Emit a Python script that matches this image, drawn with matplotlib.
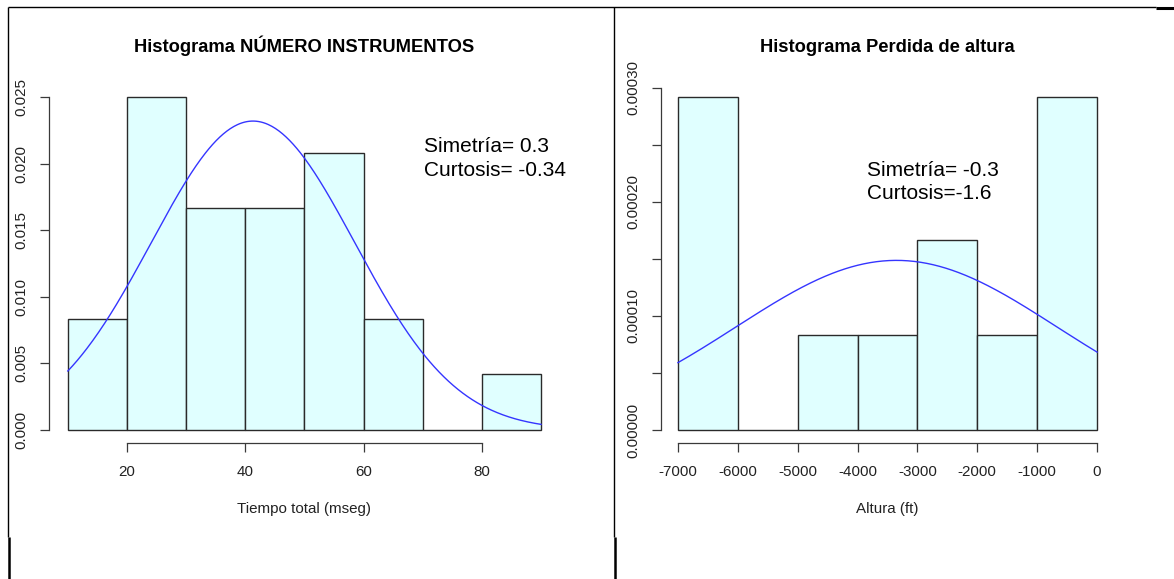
import numpy as np
import matplotlib
matplotlib.use("Agg")
import matplotlib.pyplot as plt
from matplotlib.lines import Line2D

plt.rcParams['font.family'] = ['Liberation Sans', 'DejaVu Sans']

# ---------------- data ----------------
# Left histogram: Tiempo total (mseg)
left_edges = [10, 20, 30, 40, 50, 60, 70, 80, 90]
left_density = [0.008333, 0.025, 0.016667, 0.016667, 0.020833, 0.008333, 0.0, 0.004167]
left_mean = 41.3
left_sd = 17.2
left_xticks = [20, 40, 60, 80]
left_yticks = [0.000, 0.005, 0.010, 0.015, 0.020, 0.025]
left_ytick_labels = ["0.000", "0.005", "0.010", "0.015", "0.020", "0.025"]
left_title = "Histograma NÚMERO INSTRUMENTOS"
left_xlabel = "Tiempo total (mseg)"
left_notes = ["Simetría= 0.3", "Curtosis= -0.34"]

# Right histogram: Altura (ft)
right_edges = [-7000, -6000, -5000, -4000, -3000, -2000, -1000, 0]
right_density = [0.0002917, 0.0, 0.0000833, 0.0000833, 0.0001667, 0.0000833, 0.0002917]
right_mean = -3350.0
right_sd = 2685.0
right_xticks = [-7000, -6000, -5000, -4000, -3000, -2000, -1000, 0]
right_yticks = [0.0, 0.00005, 0.00010, 0.00015, 0.00020, 0.00025, 0.00030]
right_ytick_labels = ["0.00000", "", "0.00010", "", "0.00020", "", "0.00030"]
right_title = "Histograma Perdida de altura"
right_xlabel = "Altura (ft)"
right_notes = ["Simetría= -0.3", "Curtosis=-1.6"]

# ---------------- layout ----------------
W, H = 1174, 579
fig = plt.figure(figsize=(W / 100, H / 100), dpi=100)

def px_axes(x0, x1, ytop, ybot):
    return fig.add_axes([x0 / W, 1 - ybot / H, (x1 - x0) / W, (ybot - ytop) / H])

BAR_FACE = '#E0FFFF'
BAR_EDGE = '#2a2a2a'
AX_COL = '#3a3a3a'
TICK_FS = 10.9

def draw_hist(ax, edges, dens, mean, sd, xlim, ylim, xticks, yticks, ylabels,
              title, xlabel, notes, note_xy, ybound):
    edges = np.asarray(edges, float)
    widths = np.diff(edges)
    ax.bar(edges[:-1], dens, width=widths, align='edge', color=BAR_FACE,
           edgecolor=BAR_EDGE, linewidth=1.0, zorder=2)
    xs = np.linspace(edges[0], edges[-1], 400)
    ys = np.exp(-0.5 * ((xs - mean) / sd) ** 2) / (sd * np.sqrt(2 * np.pi))
    ax.plot(xs, ys, color='#3535ff', linewidth=1.0, zorder=3)
    ax.set_xlim(*xlim)
    ax.set_ylim(*ylim)
    for s in ['top', 'right']:
        ax.spines[s].set_visible(False)
    for s in ['left', 'bottom']:
        ax.spines[s].set_color(AX_COL)
        ax.spines[s].set_linewidth(0.9)
    ax.spines['bottom'].set_bounds(xticks[0], xticks[-1])
    ax.spines['left'].set_bounds(ybound[0], ybound[1])
    ax.set_xticks(xticks)
    ax.set_xticklabels([str(t) for t in xticks], fontsize=TICK_FS, color='#222222')
    ax.set_yticks(yticks)
    ax.set_yticklabels(ylabels, fontsize=TICK_FS, rotation=90, va='center',
                       color='#222222')
    ax.tick_params(axis='both', direction='out', length=6.5, width=0.9,
                   color=AX_COL)
    ax.tick_params(axis='x', pad=9.0)
    ax.tick_params(axis='y', pad=8.6)
    ax.set_title(title, fontsize=13.2, fontweight='bold', pad=22.5)
    ax.set_xlabel(xlabel, fontsize=TICK_FS, color='#222222')
    ax.xaxis.set_label_coords(0.5, -0.163)
    ax.xaxis.label.set_va('top')
    for i, t in enumerate(notes):
        ax.text(note_xy[0], note_xy[1] - i * 0.064, t, transform=ax.transAxes,
                fontsize=15, va='center', ha='left', color='black')
    ax.patch.set_alpha(0)

axL = px_axes(48.9, 560.0, 83.7, 443.3)
draw_hist(axL, left_edges, left_density, left_mean, left_sd,
          (6.8, 93.2), (-0.001, 0.026), left_xticks, left_yticks,
          left_ytick_labels, left_title, left_xlabel, left_notes,
          (0.734, 0.824), (0.0, 0.025))

axR = px_axes(661.2, 1113.8, 83.7, 443.3)
draw_hist(axR, right_edges, right_density, right_mean, right_sd,
          (-7280, 280), (-0.0000117, 0.0003034), right_xticks, right_yticks,
          right_ytick_labels, right_title, right_xlabel, right_notes,
          (0.455, 0.760), (0.0, 0.0003))

# ---------------- page borders ----------------
def pline(xs, ys, lw):
    fig.add_artist(Line2D([x / W for x in xs], [1 - y / H for y in ys],
                          transform=fig.transFigure, color='black',
                          linewidth=lw, solid_capstyle='butt'))

pline([8, 1156], [7.3, 7.3], 1.0)
pline([1156, 1174], [7.8, 7.8], 2.2)
pline([8.3, 8.3], [7, 537], 1.0)
pline([8.8, 8.8], [537, 579], 1.8)
pline([614.3, 614.3], [7, 537], 1.0)
pline([614.8, 614.8], [537, 579], 1.8)

fig.savefig("out.png", dpi=100)
